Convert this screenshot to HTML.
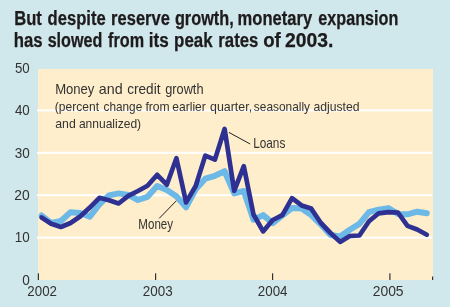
<!DOCTYPE html>
<html><head><meta charset="utf-8"><style>
html,body{margin:0;padding:0;background:#d0e7eb;overflow:hidden;}
svg{display:block;will-change:transform;}
text{font-family:"Liberation Sans",sans-serif;}
.ttl{font-weight:bold;fill:#1e1b1c;}
.ax{fill:#333333;}
.lab{fill:#333333;}
</style></head><body>
<svg width="450" height="307" viewBox="0 0 450 307">
<rect x="0" y="0" width="450" height="307" fill="#d0e7eb"/>
<text x="14.19" y="24.5" class="ttl" style="font-size:19.5px" textLength="27.72" lengthAdjust="spacingAndGlyphs" stroke="#1e1b1c" stroke-width="0.25">But</text>
<text x="47.52" y="24.5" class="ttl" style="font-size:19.5px" textLength="58.15" lengthAdjust="spacingAndGlyphs" stroke="#1e1b1c" stroke-width="0.25">despite</text>
<text x="111.11" y="24.5" class="ttl" style="font-size:19.5px" textLength="58.75" lengthAdjust="spacingAndGlyphs" stroke="#1e1b1c" stroke-width="0.25">reserve</text>
<text x="174.93" y="24.5" class="ttl" style="font-size:19.5px" textLength="58.76" lengthAdjust="spacingAndGlyphs" stroke="#1e1b1c" stroke-width="0.25">growth,</text>
<text x="237.61" y="24.5" class="ttl" style="font-size:19.5px" textLength="74.48" lengthAdjust="spacingAndGlyphs" stroke="#1e1b1c" stroke-width="0.25">monetary</text>
<text x="318.37" y="24.5" class="ttl" style="font-size:19.5px" textLength="79.93" lengthAdjust="spacingAndGlyphs" stroke="#1e1b1c" stroke-width="0.25">expansion</text>
<text x="13.83" y="47.3" class="ttl" style="font-size:19.5px" textLength="28.86" lengthAdjust="spacingAndGlyphs" stroke="#1e1b1c" stroke-width="0.25">has</text>
<text x="47.63" y="47.3" class="ttl" style="font-size:19.5px" textLength="54.73" lengthAdjust="spacingAndGlyphs" stroke="#1e1b1c" stroke-width="0.25">slowed</text>
<text x="108.12" y="47.3" class="ttl" style="font-size:19.5px" textLength="35.98" lengthAdjust="spacingAndGlyphs" stroke="#1e1b1c" stroke-width="0.25">from</text>
<text x="148.80" y="47.3" class="ttl" style="font-size:19.5px" textLength="20.00" lengthAdjust="spacingAndGlyphs" stroke="#1e1b1c" stroke-width="0.25">its</text>
<text x="174.09" y="47.3" class="ttl" style="font-size:19.5px" textLength="38.50" lengthAdjust="spacingAndGlyphs" stroke="#1e1b1c" stroke-width="0.25">peak</text>
<text x="218.29" y="47.3" class="ttl" style="font-size:19.5px" textLength="40.09" lengthAdjust="spacingAndGlyphs" stroke="#1e1b1c" stroke-width="0.25">rates</text>
<text x="263.17" y="47.3" class="ttl" style="font-size:19.5px" textLength="17.59" lengthAdjust="spacingAndGlyphs" stroke="#1e1b1c" stroke-width="0.25">of</text>
<text x="284.93" y="47.3" class="ttl" style="font-size:19.5px" textLength="48.40" lengthAdjust="spacingAndGlyphs" stroke="#1e1b1c" stroke-width="0.25">2003.</text>
<rect x="38" y="69" width="395" height="211" fill="#feeecc"/>
<rect x="37" y="109.4" width="395" height="2" fill="#ffffff"/>
<rect x="37" y="151.8" width="395" height="2" fill="#ffffff"/>
<rect x="37" y="194.2" width="395" height="2" fill="#ffffff"/>
<rect x="37" y="236.6" width="395" height="2" fill="#ffffff"/>
<text x="14.97" y="73" class="ax" style="font-size:15px" textLength="14.75" lengthAdjust="spacingAndGlyphs">50</text>
<text x="14.89" y="115.2" class="ax" style="font-size:15px" textLength="14.83" lengthAdjust="spacingAndGlyphs">40</text>
<text x="14.68" y="157.6" class="ax" style="font-size:15px" textLength="15.04" lengthAdjust="spacingAndGlyphs">30</text>
<text x="14.30" y="200" class="ax" style="font-size:15px" textLength="15.44" lengthAdjust="spacingAndGlyphs">20</text>
<text x="14.78" y="242.4" class="ax" style="font-size:15px" textLength="14.95" lengthAdjust="spacingAndGlyphs">10</text>
<text x="22.17" y="284.6" class="ax" style="font-size:15px" textLength="7.56" lengthAdjust="spacingAndGlyphs">0</text>
<rect x="37.8" y="273.3" width="1.2" height="6.7" fill="#333"/>
<rect x="155" y="273.3" width="1.2" height="6.7" fill="#333"/>
<rect x="272" y="273.3" width="1.2" height="6.7" fill="#333"/>
<rect x="389.3" y="273.3" width="1.2" height="6.7" fill="#333"/>
<rect x="432" y="276.5" width="1.2" height="3.5" fill="#333"/>
<text x="27.33" y="296.4" class="ax" style="font-size:15px" textLength="29.64" lengthAdjust="spacingAndGlyphs">2002</text>
<text x="142.82" y="296.4" class="ax" style="font-size:15px" textLength="29.87" lengthAdjust="spacingAndGlyphs">2003</text>
<text x="257.83" y="296.4" class="ax" style="font-size:15px" textLength="29.66" lengthAdjust="spacingAndGlyphs">2004</text>
<text x="372.70" y="296.4" class="ax" style="font-size:15px" textLength="30.88" lengthAdjust="spacingAndGlyphs">2005</text>
<text x="55.13" y="94" class="lab" style="font-size:14.2px" textLength="39.30" lengthAdjust="spacingAndGlyphs">Money</text>
<text x="98.79" y="94" class="lab" style="font-size:14.2px" textLength="23.83" lengthAdjust="spacingAndGlyphs">and</text>
<text x="127.22" y="94" class="lab" style="font-size:14.2px" textLength="33.28" lengthAdjust="spacingAndGlyphs">credit</text>
<text x="165.16" y="94" class="lab" style="font-size:14.2px" textLength="38.37" lengthAdjust="spacingAndGlyphs">growth</text>
<text x="54.85" y="111" class="lab" style="font-size:13.6px" textLength="44.13" lengthAdjust="spacingAndGlyphs">(percent</text>
<text x="103.60" y="111" class="lab" style="font-size:13.6px" textLength="38.62" lengthAdjust="spacingAndGlyphs">change</text>
<text x="145.43" y="111" class="lab" style="font-size:13.6px" textLength="24.27" lengthAdjust="spacingAndGlyphs">from</text>
<text x="172.29" y="111" class="lab" style="font-size:13.6px" textLength="33.51" lengthAdjust="spacingAndGlyphs">earlier</text>
<text x="210.09" y="111" class="lab" style="font-size:13.6px" textLength="42.01" lengthAdjust="spacingAndGlyphs">quarter,</text>
<text x="253.87" y="111" class="lab" style="font-size:13.6px" textLength="56.15" lengthAdjust="spacingAndGlyphs">seasonally</text>
<text x="313.38" y="111" class="lab" style="font-size:13.6px" textLength="46.10" lengthAdjust="spacingAndGlyphs">adjusted</text>
<text x="55.28" y="127.7" class="lab" style="font-size:13.6px" textLength="20.51" lengthAdjust="spacingAndGlyphs">and</text>
<text x="78.89" y="127.7" class="lab" style="font-size:13.6px" textLength="62.26" lengthAdjust="spacingAndGlyphs">annualized)</text>
<polyline points="41.6,215.5 51.2,223.0 60.9,221.0 70.5,212.3 80.1,213.0 89.8,216.6 99.4,204.3 109.0,195.4 118.6,193.4 128.3,194.9 137.9,200.0 147.5,196.8 157.2,186.1 166.8,190.1 176.4,196.3 186.1,207.2 195.7,189.3 205.3,178.7 214.9,175.8 224.6,171.2 234.2,193.4 243.8,191.0 253.5,219.7 263.1,215.1 272.7,223.1 282.4,215.3 292.0,208.0 301.6,208.6 311.2,215.1 320.9,224.5 330.5,235.0 340.1,236.5 349.8,229.8 359.4,223.9 369.0,212.2 378.7,209.6 388.3,208.1 397.9,213.9 407.5,214.3 417.2,211.7 426.8,213.3" fill="none" stroke="#6cb8e6" stroke-width="6" stroke-linejoin="round" stroke-linecap="round"/>
<polyline points="41.6,217.5 51.2,223.7 60.9,227.0 70.5,223.0 80.1,216.5 89.8,207.6 99.4,197.8 109.0,200.2 118.6,203.5 128.3,195.9 137.9,191.0 147.5,185.8 157.2,174.8 166.8,184.7 176.4,158.2 186.1,202.4 195.7,186.0 205.3,155.6 214.9,159.6 224.6,128.9 234.2,190.8 243.8,166.2 253.5,214.5 263.1,231.4 272.7,220.0 282.4,215.1 292.0,198.2 301.6,205.4 311.2,208.6 320.9,223.0 330.5,233.0 340.1,241.9 349.8,236.0 359.4,235.5 369.0,221.3 378.7,213.3 388.3,212.1 397.9,212.5 407.5,225.9 417.2,229.5 426.8,234.7" fill="none" stroke="#2e3192" stroke-width="4.7" stroke-linejoin="round" stroke-linecap="round"/>
<line x1="228.9" y1="132.4" x2="250.2" y2="144" stroke="#222" stroke-width="1"/>
<text x="253.13" y="147.9" class="lab" style="font-size:14.3px" textLength="32.20" lengthAdjust="spacingAndGlyphs">Loans</text>
<line x1="159.2" y1="218.4" x2="176.3" y2="200.8" stroke="#222" stroke-width="1"/>
<text x="138.35" y="228.6" class="lab" style="font-size:14.3px" textLength="34.67" lengthAdjust="spacingAndGlyphs">Money</text>
</svg>
</body></html>
